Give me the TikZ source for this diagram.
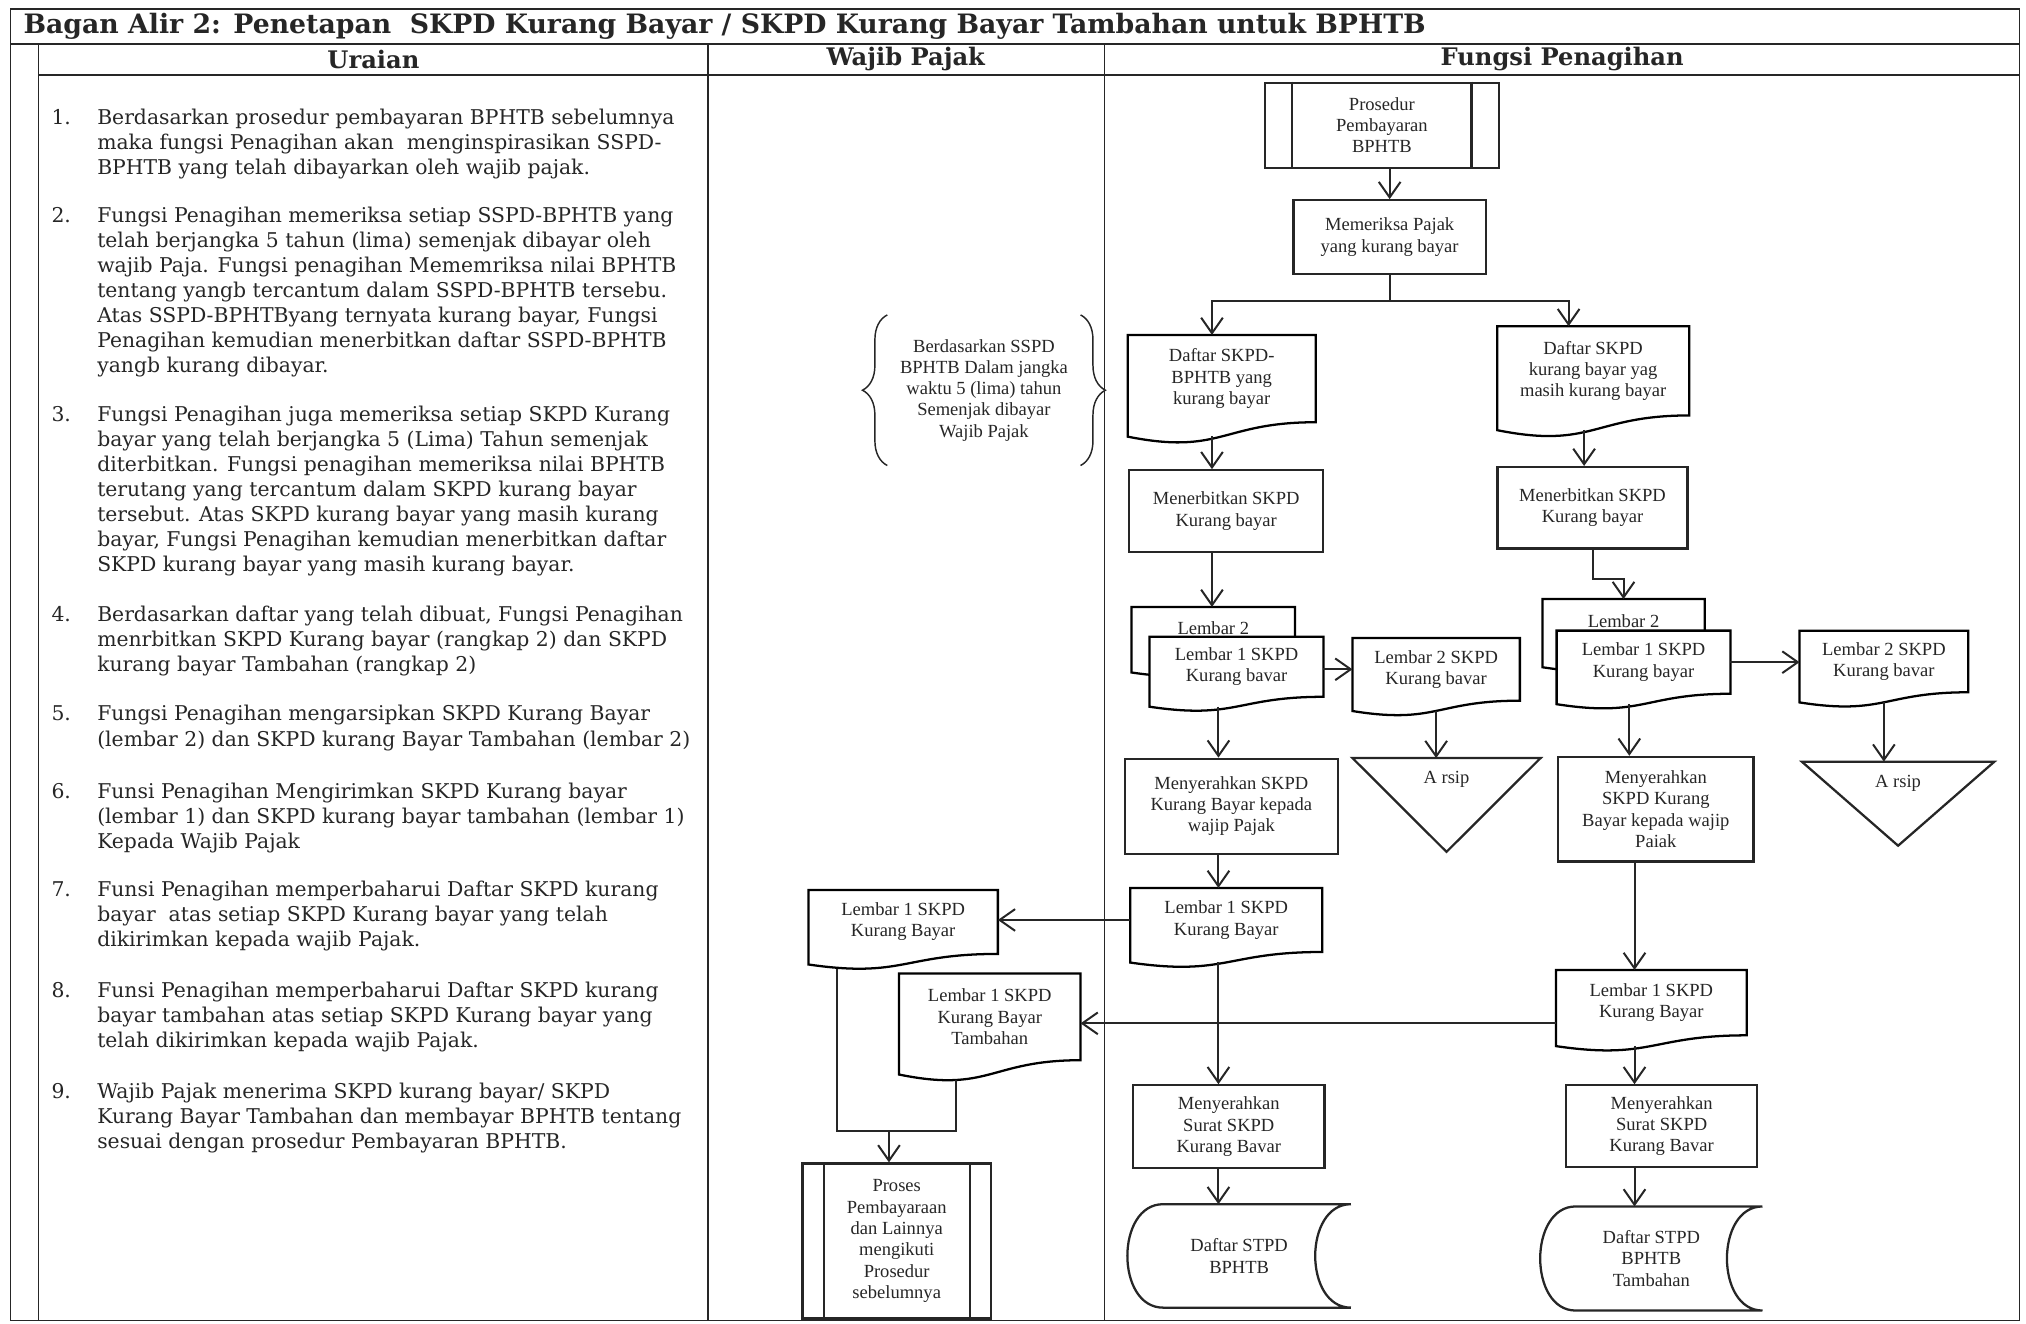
\documentclass[tikz,border=0pt]{standalone}
\usepackage{fontspec}
\newfontfamily\serifdv{DejaVu Serif}
\newfontfamily\serifalir{Liberation Serif}
\usetikzlibrary{positioning}
\usetikzlibrary{calc}
\usetikzlibrary{arrows.meta}
\usetikzlibrary{backgrounds}
\usetikzlibrary{decorations.pathreplacing}
\newcommand{\fontalir}{\serifalir\fontsize{10.2}{11.7}\selectfont}
\newcommand{\fonturaian}{\serifdv\fontsize{11.2}{13.8}\selectfont}
\newcommand{\fontjudul}{\serifdv\bfseries\fontsize{14.7}{16}\selectfont}
\newcommand{\fontkepala}{\serifdv\bfseries\fontsize{13.3}{16}\selectfont}
\tikzset{ garis/.style = {line width=1.25pt} }
\tikzset{ bingkai/.style = {line width=0.8pt} }
\tikzset{ ukuran/.style 2 args = {minimum width=#1*0.025cm, minimum height=#2*0.025cm} }
\tikzset{ kotak/.style = {rectangle, draw, garis, align=center, font=\fontalir, inner sep=2pt} }
\tikzset{ dok/.style = {rectangle, align=center, font=\fontalir, inner sep=2pt} }
\tikzset{ panah/.style = {line width=1.1pt, -{Straight Barb[length=0.3cm, width=0.42cm]}} }
\tikzset{ alur/.style = {line width=1.1pt} }
\tikzset{ butir/.style = {anchor=base west, inner sep=0pt, align=left, font=\fonturaian} }
\tikzset{ judul/.style = {inner sep=0pt, font=\fontjudul} }
\tikzset{ kepala/.style = {inner sep=0pt, font=\fontkepala} }
\tikzset{ kurung/.style = {decorate, decoration={brace, amplitude=0.48cm}, line width=0.8pt} }
% dokumen: sisi bawah bergelombang
\newcommand{\dokumen}[1]{%
  \begin{pgfonlayer}{background}
    \draw[garis, fill=white] (#1.north west) -- (#1.north east) -- (#1.south east)
      .. controls (#1.south) and ($(#1.south)!-0.38!(#1.north)$) ..
      ($(#1.south west)!-0.165!(#1.north west)$) -- cycle;
  \end{pgfonlayer}
  \coordinate (#1-b) at ($(#1.south)!-0.163!(#1.north)$);
  \coordinate (#1-bl) at ($(#1.south)!-0.231!(#1.north)$);
}
% simpanan data
\newcommand{\simpan}[1]{%
  \draw[garis] (#1.north east) -- ($(#1.north west)!0.16!(#1.north east)$)
    .. controls ($(#1.north west)!-0.053!(#1.north east)$) and ($(#1.south west)!-0.053!(#1.south east)$) ..
    ($(#1.south west)!0.16!(#1.south east)$) -- (#1.south east)
    .. controls ($(#1.south east)!0.213!(#1.south west)$) and ($(#1.north east)!0.213!(#1.north west)$) ..
    (#1.north east);
}
% proses terdefinisi
\newcommand{\garisproses}[2]{%
  \draw[garis] ([xshift=#2]#1.north west) -- ([xshift=#2]#1.south west);
  \draw[garis] ([xshift=-#2]#1.north east) -- ([xshift=-#2]#1.south east);
}
% arsip
\newcommand{\arsip}[2]{%
  \draw[garis] (#1.north west) -- (#1.north east) -- (#1.south) -- cycle;
  \node[dok, below=5pt of #1.north] (#1-t) {#2};
}
\begin{document}
\begin{tikzpicture}[x=0.025cm, y=-0.025cm, color=black!85]
\useasboundingbox (0,0) rectangle (1568,1024);

% bingkai tabel
\draw[bingkai] (8,7) rectangle (1563,1022);
\draw[bingkai] (8,34) -- (1563,34);
\draw[bingkai] (30,58) -- (1563,58);
\draw[bingkai] (30,34) -- (30,1022);
\draw[bingkai] (548,34) -- (548,1022);
\draw[bingkai] (855,34) -- (855,1022);

\node[judul, anchor=west] (judul) at (18,20) {Bagan Alir 2: Penetapan\ \ SKPD Kurang Bayar / SKPD Kurang Bayar Tambahan untuk BPHTB};
\node[kepala] (hUraian) at (289,46) {Uraian};
\node[kepala] (hWajib) at (701,46) {Wajib Pajak};
\node[kepala] (hFungsi) at (1209,46) {Fungsi Penagihan};

% uraian (anchor pada baris terakhir)
\node[butir] (u1) at (75,134.8) {\llap{1.\hspace{14.5pt}}Berdasarkan prosedur pembayaran BPHTB sebelumnya\\maka fungsi Penagihan akan\ \ menginspirasikan SSPD-\\BPHTB yang telah dibayarkan oleh wajib pajak.};
\node[butir] (u2) at (75,288.4) {\llap{2.\hspace{14.5pt}}Fungsi Penagihan memeriksa setiap SSPD-BPHTB yang\\telah berjangka 5 tahun (lima) semenjak dibayar oleh\\wajib Paja. Fungsi penagihan Mememriksa nilai BPHTB\\tentang yangb tercantum dalam SSPD-BPHTB tersebu.\\Atas SSPD-BPHTByang ternyata kurang bayar, Fungsi\\Penagihan kemudian menerbitkan daftar SSPD-BPHTB\\yangb kurang dibayar.};
\node[butir] (u3) at (75,442.4) {\llap{3.\hspace{14.5pt}}Fungsi Penagihan juga memeriksa setiap SKPD Kurang\\bayar yang telah berjangka 5 (Lima) Tahun semenjak\\diterbitkan. Fungsi penagihan memeriksa nilai BPHTB\\terutang yang tercantum dalam SKPD kurang bayar\\tersebut. Atas SKPD kurang bayar yang masih kurang\\bayar, Fungsi Penagihan kemudian menerbitkan daftar\\SKPD kurang bayar yang masih kurang bayar.};
\node[butir] (u4) at (75,519.8) {\llap{4.\hspace{14.5pt}}Berdasarkan daftar yang telah dibuat, Fungsi Penagihan\\menrbitkan SKPD Kurang bayar (rangkap 2) dan SKPD\\kurang bayar Tambahan (rangkap 2)};
\node[butir] (u5) at (75,577.4) {\llap{5.\hspace{14.5pt}}Fungsi Penagihan mengarsipkan SKPD Kurang Bayar\\(lembar 2) dan SKPD kurang Bayar Tambahan (lembar 2)};
\node[butir] (u6) at (75,656.8) {\llap{6.\hspace{14.5pt}}Funsi Penagihan Mengirimkan SKPD Kurang bayar\\(lembar 1) dan SKPD kurang bayar tambahan (lembar 1)\\Kepada Wajib Pajak};
\node[butir] (u7) at (75,732.8) {\llap{7.\hspace{14.5pt}}Funsi Penagihan memperbaharui Daftar SKPD kurang\\bayar\ \ atas setiap SKPD Kurang bayar yang telah\\dikirimkan kepada wajib Pajak.};
\node[butir] (u8) at (75,810.8) {\llap{8.\hspace{14.5pt}}Funsi Penagihan memperbaharui Daftar SKPD kurang\\bayar tambahan atas setiap SKPD Kurang bayar yang\\telah dikirimkan kepada wajib Pajak.};
\node[butir] (u9) at (75,888.8) {\llap{9.\hspace{14.5pt}}Wajib Pajak menerima SKPD kurang bayar/ SKPD\\Kurang Bayar Tambahan dan membayar BPHTB tentang\\sesuai dengan prosedur Pembayaran BPHTB.};

% wajib pajak
\node[dok, ukuran={149}{116}] (catatan) at (761.5,302) {Berdasarkan SSPD\\BPHTB Dalam jangka\\waktu 5 (lima) tahun\\Semenjak dibayar\\Wajib Pajak};
\draw[kurung] (catatan.south west) -- (catatan.north west);
\draw[kurung] (catatan.north east) -- (catatan.south east);
\node[dok, ukuran={146}{49}] (lw) at (699,713.5) {Lembar 1 SKPD\\Kurang Bayar};
\dokumen{lw}
\node[dok, ukuran={140}{66.5}] (wt) at (766,787) {Lembar 1 SKPD\\Kurang Bayar\\Tambahan};
\dokumen{wt}
\node[kotak, ukuran={146}{120}] (pw) at (694,960.5) {Proses\\Pembayaraan\\dan Lainnya\\mengikuti\\Prosedur\\sebelumnya};
\garisproses{pw}{0.435cm}

% fungsi penagihan
\node[kotak, ukuran={181}{66}] (pr) at (1069.5,97) {Prosedur\\Pembayaran\\BPHTB};
\garisproses{pr}{0.55cm}
\node[kotak, ukuran={149}{57}] (pk) at (1075.5,183.5) {Memeriksa Pajak\\yang kurang bayar};
\node[dok, ukuran={145}{67}] (df1) at (945.5,293) {Daftar SKPD-\\BPHTB yang\\kurang bayar};
\dokumen{df1}
\node[dok, ukuran={148}{68.5}] (df2) at (1233,287) {Daftar SKPD\\kurang bayar yag\\masih kurang bayar};
\dokumen{df2}
\node[kotak, ukuran={150}{63}] (tb1) at (949,395.5) {Menerbitkan SKPD\\Kurang bayar};
\node[kotak, ukuran={147}{63}] (tb2) at (1232.5,393) {Menerbitkan SKPD\\Kurang bayar};

\node[dok, ukuran={126}{43}, text depth=8pt] (lb1) at (939,491.5) {Lembar 2};
\dokumen{lb1}
\node[dok, ukuran={134}{46}] (la1) at (957,516) {Lembar 1 SKPD\\Kurang bavar};
\dokumen{la1}
\node[dok, ukuran={129}{48}] (ld1) at (1111.5,518) {Lembar 2 SKPD\\Kurang bavar};
\dokumen{ld1}
\node[dok, ukuran={125}{44.7}, text depth=8pt] (lb2) at (1256.5,486.3) {Lembar 2};
\dokumen{lb2}
\node[dok, ukuran={134}{48.3}] (la2) at (1272,512.5) {Lembar 1 SKPD\\Kurang bayar};
\dokumen{la2}
\node[dok, ukuran={130}{47}] (ld2) at (1458,512) {Lembar 2 SKPD\\Kurang bavar};
\dokumen{ld2}

\node[kotak, ukuran={165}{73.5}] (ms1) at (953,624) {Menyerahkan SKPD\\Kurang Bayar kepada\\wajip Pajak};
\node[dok, ukuran={145}{72}] (ar1) at (1119.5,623) {};
\arsip{ar1}{A rsip}
\node[kotak, ukuran={151}{81}] (ms2) at (1281.5,626.3) {Menyerahkan\\SKPD Kurang\\Bayar kepada wajip\\Paiak};
\node[dok, ukuran={148.5}{64.5}] (ar2) at (1469,622) {};
\arsip{ar2}{A rsip}

\node[dok, ukuran={148}{49}] (lk1) at (949,712) {Lembar 1 SKPD\\Kurang Bayar};
\dokumen{lk1}
\node[dok, ukuran={147}{50}] (lk2) at (1278,776) {Lembar 1 SKPD\\Kurang Bayar};
\dokumen{lk2}
\node[kotak, ukuran={148}{64}] (ms3) at (951,872) {Menyerahkan\\Surat SKPD\\Kurang Bavar};
\node[kotak, ukuran={148}{63}] (ms4) at (1286,871.5) {Menyerahkan\\Surat SKPD\\Kurang Bavar};
\node[dok, ukuran={172.5}{79.5}] (ds1) at (959,972) {Daftar STPD\\BPHTB};
\simpan{ds1}
\node[dok, ukuran={171.5}{80}] (ds2) at (1278,974) {Daftar STPD\\BPHTB\\Tambahan};
\simpan{ds2}

% jalur penghubung
\coordinate (cabang) at (1075.5,233);
\coordinate (jalurA) at (938,0);
\coordinate (jalurB) at (1214,0);
\coordinate (jalurC) at (1226,0);
\coordinate (jalurD) at (943,0);
\coordinate (jalurE) at (1261,0);
\coordinate (jalurF) at (1265,0);
\coordinate (jalurH) at (648,0);
\coordinate (jalurI) at (740,0);
\coordinate (barisG) at (0,792);
\coordinate (gabung) at (688,875);

\draw[panah] (pr.south -| pk.north) -- (pk.north);
\draw[alur] (pk.south) -- (cabang);
\draw[panah] (cabang) -| (jalurA |- df1.north);
\draw[panah] (cabang) -| (jalurB |- df2.north);
\draw[panah] (jalurA |- df1-b) -- (jalurA |- tb1.north);
\draw[panah] (jalurC |- df2-b) -- (jalurC |- tb2.north);
\draw[panah] (jalurA |- tb1.south) -- (jalurA |- lb1.north);
\draw[panah] (tb2.south) -- ++(0,23) -| (lb2.north);
\draw[panah] (la1.east |- ld1.west) -- (ld1.west);
\draw[panah] (la2.east) -- (la2.east -| ld2.west);
\draw[panah] (jalurD |- la1-b) -- (jalurD |- ms1.north);
\draw[panah] (ld1-b) -- (ld1-b |- ar1.north);
\draw[panah] (jalurE |- la2-b) -- (jalurE |- ms2.north);
\draw[panah] (ld2-b) -- (ld2-b |- ar2.north);
\draw[panah] (jalurD |- ms1.south) -- (jalurD |- lk1.north);
\draw[panah] (lk1.west) -- (lk1.west -| lw.east);
\draw[panah] (jalurD |- lk1-b) -- (jalurD |- ms3.north);
\draw[panah] (jalurD |- ms3.south) -- (jalurD |- ds1.north);
\draw[panah] (jalurF |- ms2.south) -- (jalurF |- lk2.north);
\draw[panah] (lk2.west |- barisG) -- (wt.east |- barisG);
\draw[panah] (jalurF |- lk2-b) -- (jalurF |- ms4.north);
\draw[panah] (jalurF |- ms4.south) -- (jalurF |- ds2.north);
\draw[alur] (jalurH |- lw-bl) -- (jalurH |- gabung) -- (jalurI |- gabung) -- (jalurI |- wt-bl);
\draw[panah] (gabung) -- (gabung |- pw.north);
\end{tikzpicture}
\end{document}
